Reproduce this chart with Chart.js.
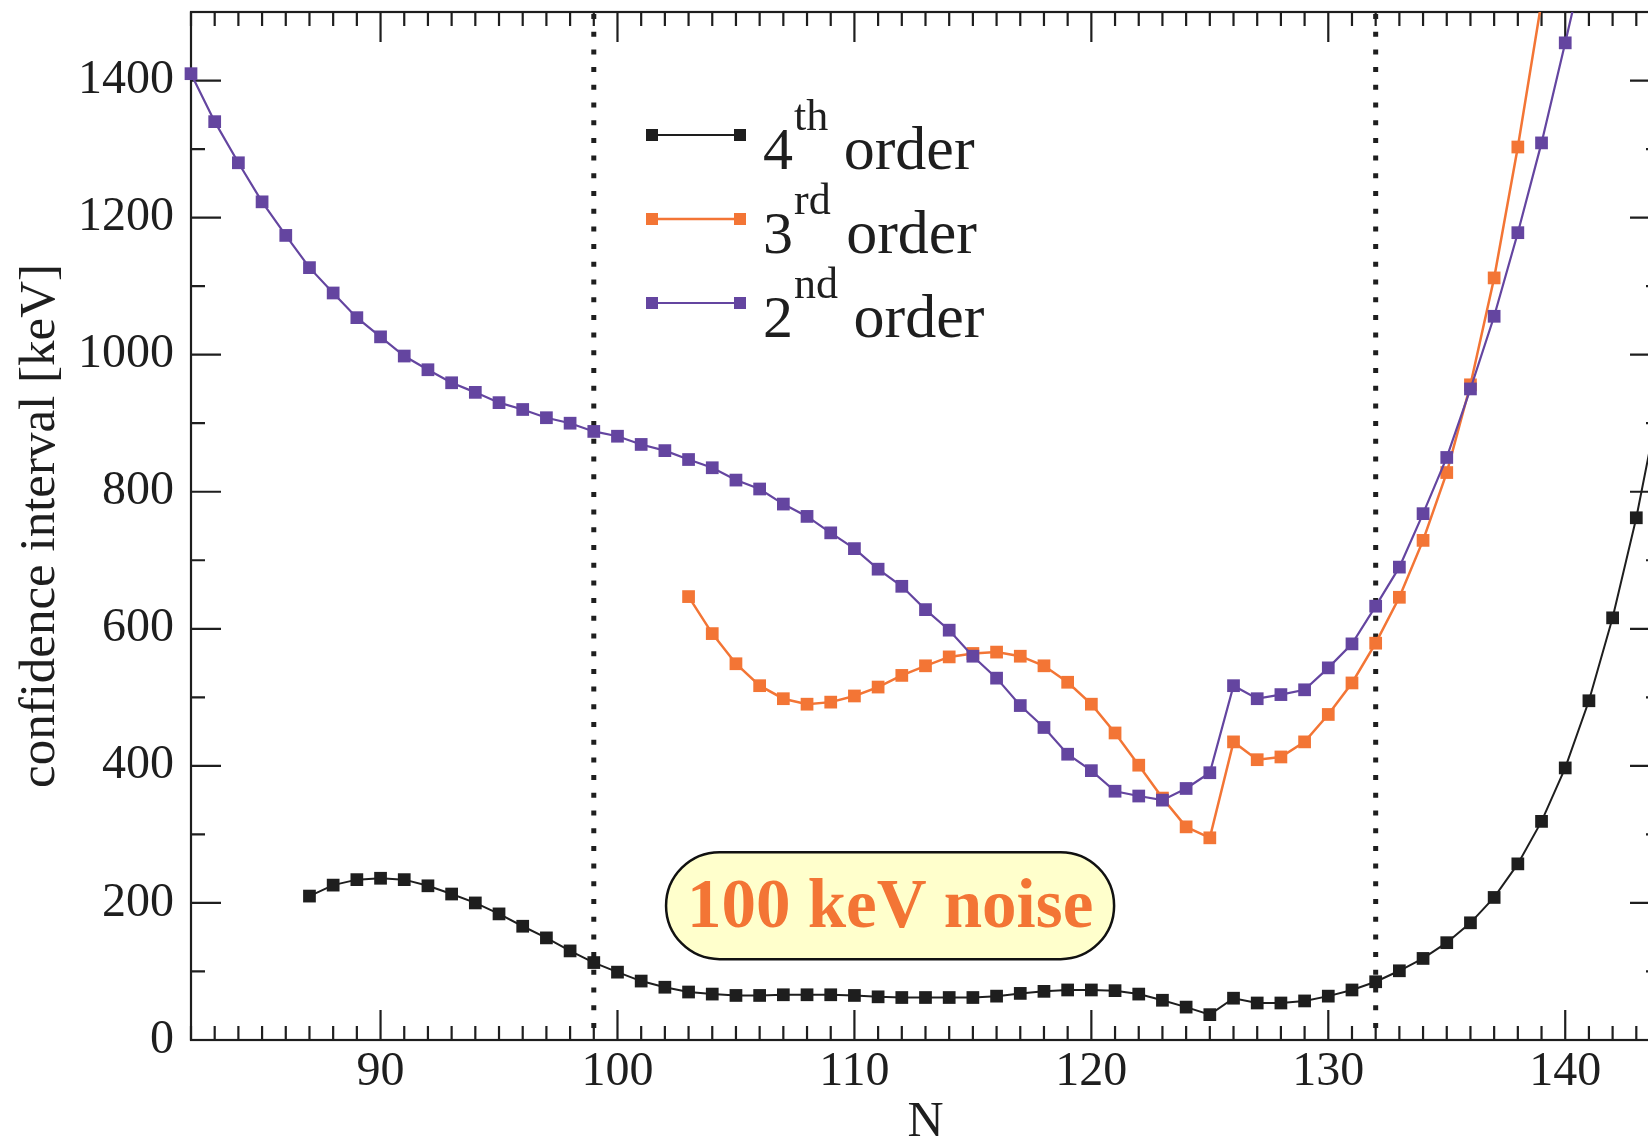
<!DOCTYPE html>
<html>
<head>
<meta charset="utf-8">
<title>confidence interval vs N</title>
<script src="https://cdn.jsdelivr.net/npm/chart.js@4.4.1/dist/chart.umd.min.js"></script>
<style>
  html, body { margin: 0; padding: 0; background: #fff; overflow: hidden; }
  #wrap { position: relative; width: 1648px; height: 1143px; overflow: hidden; }
  canvas { display: block; }
</style>
</head>
<body>
<div id="wrap"><canvas id="ciChart" width="1680" height="1143"></canvas></div>
<script>
// neutron number N on the x axis
const neutronN = [
  82, 83, 84, 85, 86, 87, 88, 89, 90, 91, 92, 93, 94, 95, 96, 97, 98, 99,
  100, 101, 102, 103, 104, 105, 106, 107, 108, 109, 110, 111, 112, 113, 114, 115, 116, 117, 118, 119,
  120, 121, 122, 123, 124, 125, 126, 127, 128, 129, 130, 131, 132, 133, 134, 135, 136, 137, 138, 139,
  140, 141, 142, 143, 144,
];

// confidence interval [keV], one value per N (null = not computed)
const order2nd = [
  1410, 1340, 1280, 1223, 1174, 1127, 1090, 1054, 1026, 998, 978, 959, 945, 930, 920, 908, 900, 888,
  881, 869, 860, 847, 835, 817, 804, 782, 764, 740, 717, 687, 662, 628, 598, 560, 528, 488, 456, 417,
  393, 363, 356, 350, 367, 390, 517, 498, 504, 511, 543, 578, 633, 690, 768, 850, 950, 1056, 1178, 1309,
  1455, 1605, null, null, null,
];

const order3rd = [
  null, null, null, null, null, null, null, null, null, null, null, null, null, null, null, null, null, null,
  null, null, null, 647, 593, 549, 517, 498, 490, 493, 502, 515, 532, 546, 559, 564, 566, 560, 546, 522,
  490, 448, 401, 353, 311, 295, 435, 409, 413, 435, 475, 521, 579, 646, 729, 828, 956, 1112, 1303, 1515,
  null, null, null, null, null,
];

const order4th = [
  null, null, null, null, null, 210, 226, 234, 236, 234, 225, 213, 200, 184, 166, 149, 130, 113,
  99, 86, 77, 70, 67, 65, 65, 66, 66, 66, 65, 63, 62, 62, 62, 62, 64, 68, 71, 73,
  73, 72, 67, 58, 48, 37, 61, 54, 54, 57, 64, 73, 85, 101, 119, 142, 171, 208, 257, 319,
  397, 495, 616, 762, 937,
];

const xTickValues = [90, 100, 110, 120, 130, 140];
const yTickValues = [0, 200, 400, 600, 800, 1000, 1200, 1400];
const guideLinesN = [99, 132];

const legendLabels = [
  { num: "4", sup: "th", word: "order" },
  { num: "3", sup: "rd", word: "order" },
  { num: "2", sup: "nd", word: "order" },
];
const noiseLabel = "100 keV noise";

const SERIF = "'Liberation Serif', 'Times New Roman', serif";
const INK = "#1e1e1e";
const ORANGE = "#f37535";
const PURPLE = "#6445a0";

function toPoints(values) {
  return neutronN
    .map((n, i) => ({ x: n, y: values[i] }))
    .filter((p) => p.y !== null);
}

function makeSeries(label, values, color, width, order) {
  return {
    label,
    data: toPoints(values),
    borderColor: color,
    backgroundColor: color,
    borderWidth: width,
    pointStyle: "rect",
    pointRadius: 9,
    pointBorderWidth: 0,
    pointBackgroundColor: color,
    tension: 0,
    order,
    clip: { left: 12, top: 0, right: 0, bottom: 12 },
  };
}

// box, inward ticks on all four sides and the dotted guides
const frameTicks = {
  id: "frameTicks",
  beforeDatasetsDraw(chart) {
    const { ctx, chartArea: a, scales } = chart;
    const x = scales.x;
    const y = scales.y;
    ctx.save();
    ctx.strokeStyle = INK;
    ctx.lineWidth = 2.2;
    ctx.strokeRect(a.left, a.top, a.right - a.left, a.bottom - a.top);

    ctx.beginPath();
    for (let n = Math.ceil(x.min); n <= x.max; n++) {
      const px = x.getPixelForValue(n);
      const len = n % 10 === 0 ? 30 : 14;
      ctx.moveTo(px, a.bottom);
      ctx.lineTo(px, a.bottom - len);
      ctx.moveTo(px, a.top);
      ctx.lineTo(px, a.top + len);
    }
    for (let v = y.min; v <= y.max; v += 100) {
      const py = y.getPixelForValue(v);
      const len = v % 200 === 0 ? 30 : 14;
      ctx.moveTo(a.left, py);
      ctx.lineTo(a.left + len, py);
      ctx.moveTo(a.right, py);
      ctx.lineTo(a.right - len, py);
    }
    ctx.stroke();

    ctx.lineWidth = 5;
    ctx.setLineDash([5, 12.7]);
    guideLinesN.forEach((n) => {
      const px = x.getPixelForValue(n);
      ctx.beginPath();
      ctx.moveTo(px, a.top + 2);
      ctx.lineTo(px, a.bottom);
      ctx.stroke();
    });
    ctx.restore();
  },
};

// legend with superscript ordinals
const ordinalLegend = {
  id: "ordinalLegend",
  afterDatasetsDraw(chart) {
    const { ctx } = chart;
    const x0 = 652;
    const x1 = 740;
    const textX = 763;
    ctx.save();
    chart.data.datasets.forEach((ds, i) => {
      const rowY = 135 + i * 84;
      const item = legendLabels[i];
      ctx.strokeStyle = ds.borderColor;
      ctx.lineWidth = ds.borderWidth;
      ctx.beginPath();
      ctx.moveTo(x0, rowY);
      ctx.lineTo(x1, rowY);
      ctx.stroke();
      ctx.fillStyle = ds.borderColor;
      ctx.fillRect(x0 - 6, rowY - 6, 12, 12);
      ctx.fillRect(x1 - 6, rowY - 6, 12, 12);

      ctx.fillStyle = INK;
      ctx.textBaseline = "alphabetic";
      ctx.textAlign = "left";
      ctx.font = "60px " + SERIF;
      ctx.fillText(item.num, textX, rowY + 34);
      let cx = textX + ctx.measureText(item.num).width + 1;
      ctx.font = "44px " + SERIF;
      ctx.fillText(item.sup, cx, rowY - 5);
      cx += ctx.measureText(item.sup).width;
      ctx.font = "62px " + SERIF;
      ctx.fillText(" " + item.word, cx, rowY + 34);
    });
    ctx.restore();
  },
};

// rounded yellow label box, placed in data coordinates
const noiseBox = {
  id: "noiseBox",
  afterDatasetsDraw(chart) {
    const { ctx, scales } = chart;
    const left = scales.x.getPixelForValue(102.05);
    const right = scales.x.getPixelForValue(120.96);
    const top = scales.y.getPixelForValue(274);
    const bottom = scales.y.getPixelForValue(118);
    const r = (bottom - top) / 2;
    ctx.save();
    ctx.beginPath();
    ctx.moveTo(left + r, top);
    ctx.lineTo(right - r, top);
    ctx.arc(right - r, top + r, r, -Math.PI / 2, Math.PI / 2);
    ctx.lineTo(left + r, bottom);
    ctx.arc(left + r, top + r, r, Math.PI / 2, Math.PI * 1.5);
    ctx.closePath();
    ctx.fillStyle = "#ffffcc";
    ctx.fill();
    ctx.lineWidth = 2.5;
    ctx.strokeStyle = "#111";
    ctx.stroke();

    ctx.fillStyle = ORANGE;
    ctx.font = "bold 69px " + SERIF;
    ctx.textAlign = "center";
    ctx.textBaseline = "alphabetic";
    ctx.fillText(noiseLabel, (left + right) / 2, bottom - 32);
    ctx.restore();
  },
};

function buildChart() {
  const ctx = document.getElementById("ciChart");

  new Chart(ctx, {
    type: "line",
    data: {
      datasets: [
        makeSeries("4th order", order4th, INK, 2, 2),
        makeSeries("3rd order", order3rd, ORANGE, 2.5, 1),
        makeSeries("2nd order", order2nd, PURPLE, 2.2, 0),
      ],
    },
    options: {
      responsive: false,
      devicePixelRatio: 1,
      animation: false,
      layout: {
        padding: { left: 0, right: 20, top: 12, bottom: 0 },
      },
      plugins: {
        legend: { display: false },
        tooltip: { enabled: false },
      },
      scales: {
        x: {
          type: "linear",
          position: "bottom",
          min: 82,
          max: 144,
          grid: { display: false, drawTicks: false },
          border: { display: false },
          afterBuildTicks: (scale) => {
            scale.ticks = xTickValues.map((v) => ({ value: v }));
          },
          afterFit: (scale) => {
            scale.height = 103;
            scale.paddingLeft = 0;
            scale.paddingRight = 0;
          },
          ticks: {
            color: INK,
            padding: 4,
            maxRotation: 0,
            font: { family: SERIF, size: 48 },
            callback: (v) => String(v),
          },
          title: {
            display: true,
            text: "N",
            color: INK,
            font: { family: SERIF, size: 50, lineHeight: 1 },
            padding: { top: 0, bottom: -4.5 },
          },
        },
        y: {
          type: "linear",
          position: "left",
          min: 0,
          max: 1500,
          grid: { display: false, drawTicks: false },
          border: { display: false },
          afterBuildTicks: (scale) => {
            scale.ticks = yTickValues.map((v) => ({ value: v }));
          },
          afterFit: (scale) => {
            scale.width = 191;
            scale.paddingTop = 0;
            scale.paddingBottom = 0;
          },
          ticks: {
            color: INK,
            padding: 17,
            font: { family: SERIF, size: 48 },
            callback: (v) => String(v),
          },
          title: {
            display: true,
            text: "confidence interval [keV]",
            color: INK,
            font: { family: SERIF, size: 51, lineHeight: 1 },
            padding: { top: 15, bottom: 0 },
          },
        },
      },
    },
    plugins: [frameTicks, ordinalLegend, noiseBox],
  });
}

document.addEventListener("DOMContentLoaded", buildChart);
</script>
</body>
</html>
